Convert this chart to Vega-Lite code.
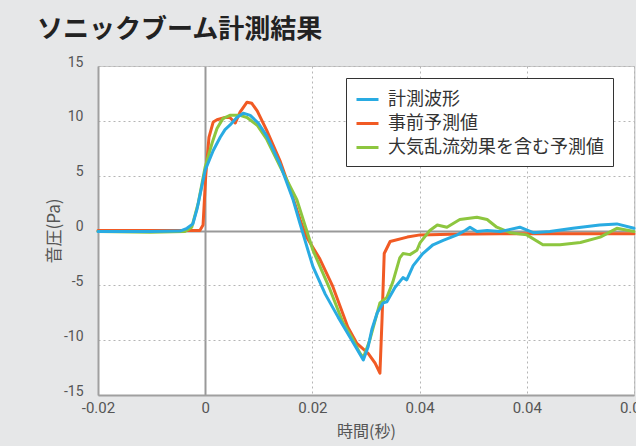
{
  "$schema": "https://vega.github.io/schema/vega-lite/v6.json",
  "width": 536,
  "height": 329,
  "autosize": {"type": "none"},
  "padding": {"left": 98, "top": 66, "right": 2, "bottom": 51},
  "background": "#e6e7e8",
  "title": {
    "text": "ソニックブーム計測結果",
    "anchor": "start",
    "frame": "group",
    "dx": -61,
    "offset": 12,
    "font": "Noto Sans CJK JP",
    "fontSize": 26,
    "fontWeight": "bold",
    "color": "#222222"
  },
  "config": {
    "view": {"fill": "white", "stroke": "#c8c8c8", "strokeWidth": 1},
    "axis": {
      "labelFont": "Roboto",
      "labelColor": "#555555",
      "titleFont": "Noto Sans CJK JP",
      "titleColor": "#555555",
      "titleFontWeight": "normal",
      "ticks": false,
      "labelFlush": false,
      "domainColor": "#a0a0a0",
      "domainWidth": 2
    }
  },
  "data": {
    "values": [
      {"series": "計測波形", "t": -0.02, "p": -0.1},
      {"series": "計測波形", "t": -0.0103, "p": -0.1},
      {"series": "計測波形", "t": -0.0047, "p": -0.05},
      {"series": "計測波形", "t": -0.0034, "p": 0.2},
      {"series": "計測波形", "t": -0.0023, "p": 0.6},
      {"series": "計測波形", "t": -0.0015, "p": 2.0},
      {"series": "計測波形", "t": 0.0, "p": 5.5},
      {"series": "計測波形", "t": 0.0015, "p": 7.3},
      {"series": "計測波形", "t": 0.0028, "p": 8.5},
      {"series": "計測波形", "t": 0.0037, "p": 9.2},
      {"series": "計測波形", "t": 0.0046, "p": 9.6},
      {"series": "計測波形", "t": 0.0059, "p": 10.3},
      {"series": "計測波形", "t": 0.0071, "p": 10.7},
      {"series": "計測波形", "t": 0.0084, "p": 10.5},
      {"series": "計測波形", "t": 0.0099, "p": 9.8},
      {"series": "計測波形", "t": 0.0115, "p": 8.6},
      {"series": "計測波形", "t": 0.014, "p": 6.0},
      {"series": "計測波形", "t": 0.0164, "p": 2.8},
      {"series": "計測波形", "t": 0.0177, "p": 0.6},
      {"series": "計測波形", "t": 0.0201, "p": -3.3},
      {"series": "計測波形", "t": 0.0224, "p": -5.8},
      {"series": "計測波形", "t": 0.0248, "p": -7.9},
      {"series": "計測波形", "t": 0.0271, "p": -9.8},
      {"series": "計測波形", "t": 0.0283, "p": -10.8},
      {"series": "計測波形", "t": 0.0295, "p": -11.8},
      {"series": "計測波形", "t": 0.0304, "p": -10.6},
      {"series": "計測波形", "t": 0.0311, "p": -9.0},
      {"series": "計測波形", "t": 0.0321, "p": -7.5},
      {"series": "計測波形", "t": 0.0332, "p": -6.6},
      {"series": "計測波形", "t": 0.0339, "p": -6.5},
      {"series": "計測波形", "t": 0.0354, "p": -5.2},
      {"series": "計測波形", "t": 0.0369, "p": -4.3},
      {"series": "計測波形", "t": 0.0376, "p": -4.5},
      {"series": "計測波形", "t": 0.0388, "p": -3.2},
      {"series": "計測波形", "t": 0.0406, "p": -2.1},
      {"series": "計測波形", "t": 0.0425, "p": -1.3},
      {"series": "計測波形", "t": 0.0444, "p": -0.9},
      {"series": "計測波形", "t": 0.047, "p": -0.4},
      {"series": "計測波形", "t": 0.0485, "p": 0.0},
      {"series": "計測波形", "t": 0.0494, "p": 0.3},
      {"series": "計測波形", "t": 0.0507, "p": -0.1},
      {"series": "計測波形", "t": 0.0526, "p": 0.0},
      {"series": "計測波形", "t": 0.055, "p": -0.1},
      {"series": "計測波形", "t": 0.0569, "p": 0.1},
      {"series": "計測波形", "t": 0.0587, "p": 0.3},
      {"series": "計測波形", "t": 0.0612, "p": -0.2},
      {"series": "計測波形", "t": 0.0643, "p": -0.1},
      {"series": "計測波形", "t": 0.0686, "p": 0.2},
      {"series": "計測波形", "t": 0.0736, "p": 0.5},
      {"series": "計測波形", "t": 0.0768, "p": 0.6},
      {"series": "計測波形", "t": 0.08, "p": 0.2},

      {"series": "事前予測値", "t": -0.02, "p": 0.0},
      {"series": "事前予測値", "t": -0.001, "p": 0.0},
      {"series": "事前予測値", "t": -0.0004, "p": 0.5},
      {"series": "事前予測値", "t": 0.0001, "p": 5.0},
      {"series": "事前予測値", "t": 0.0007, "p": 8.5},
      {"series": "事前予測値", "t": 0.0015, "p": 9.9},
      {"series": "事前予測値", "t": 0.0022, "p": 10.1},
      {"series": "事前予測値", "t": 0.0037, "p": 10.3},
      {"series": "事前予測値", "t": 0.0046, "p": 10.3},
      {"series": "事前予測値", "t": 0.0056, "p": 9.8},
      {"series": "事前予測値", "t": 0.0065, "p": 10.8},
      {"series": "事前予測値", "t": 0.0078, "p": 11.7},
      {"series": "事前予測値", "t": 0.0087, "p": 11.6},
      {"series": "事前予測値", "t": 0.0097, "p": 10.9},
      {"series": "事前予測値", "t": 0.0115, "p": 9.1},
      {"series": "事前予測値", "t": 0.014, "p": 6.3},
      {"series": "事前予測値", "t": 0.0158, "p": 3.8},
      {"series": "事前予測値", "t": 0.0177, "p": 1.0},
      {"series": "事前予測値", "t": 0.0188, "p": -0.5},
      {"series": "事前予測値", "t": 0.0214, "p": -2.6},
      {"series": "事前予測値", "t": 0.0238, "p": -5.1},
      {"series": "事前予測値", "t": 0.0266, "p": -8.8},
      {"series": "事前予測値", "t": 0.0283, "p": -10.3},
      {"series": "事前予測値", "t": 0.0304, "p": -11.2},
      {"series": "事前予測値", "t": 0.0317, "p": -12.1},
      {"series": "事前予測値", "t": 0.0326, "p": -13.0},
      {"series": "事前予測値", "t": 0.033, "p": -8.0},
      {"series": "事前予測値", "t": 0.0334, "p": -2.1},
      {"series": "事前予測値", "t": 0.0345, "p": -1.0},
      {"series": "事前予測値", "t": 0.0377, "p": -0.6},
      {"series": "事前予測値", "t": 0.0401, "p": -0.4},
      {"series": "事前予測値", "t": 0.0457, "p": -0.35},
      {"series": "事前予測値", "t": 0.055, "p": -0.3},
      {"series": "事前予測値", "t": 0.0662, "p": -0.3},
      {"series": "事前予測値", "t": 0.08, "p": -0.3},

      {"series": "大気乱流効果を含む予測値", "t": -0.02, "p": -0.1},
      {"series": "大気乱流効果を含む予測値", "t": -0.0103, "p": -0.15},
      {"series": "大気乱流効果を含む予測値", "t": -0.0038, "p": -0.1},
      {"series": "大気乱流効果を含む予測値", "t": -0.0025, "p": 0.3},
      {"series": "大気乱流効果を含む予測値", "t": -0.0013, "p": 2.5},
      {"series": "大気乱流効果を含む予測値", "t": 0.0, "p": 5.8},
      {"series": "大気乱流効果を含む予測値", "t": 0.0013, "p": 8.0},
      {"series": "大気乱流効果を含む予測値", "t": 0.0022, "p": 9.3},
      {"series": "大気乱流効果を含む予測値", "t": 0.0033, "p": 10.2},
      {"series": "大気乱流効果を含む予測値", "t": 0.0046, "p": 10.5},
      {"series": "大気乱流効果を含む予測値", "t": 0.0065, "p": 10.5},
      {"series": "大気乱流効果を含む予測値", "t": 0.0078, "p": 10.3},
      {"series": "大気乱流効果を含む予測値", "t": 0.0097, "p": 9.6},
      {"series": "大気乱流効果を含む予測値", "t": 0.0115, "p": 8.3},
      {"series": "大気乱流効果を含む予測値", "t": 0.014, "p": 5.8},
      {"series": "大気乱流効果を含む予測値", "t": 0.0171, "p": 2.8},
      {"series": "大気乱流効果を含む予測値", "t": 0.0186, "p": 0.5},
      {"series": "大気乱流効果を含む予測値", "t": 0.0201, "p": -1.8},
      {"series": "大気乱流効果を含む予測値", "t": 0.0233, "p": -5.4},
      {"series": "大気乱流効果を含む予測値", "t": 0.0257, "p": -8.4},
      {"series": "大気乱流効果を含む予測値", "t": 0.0274, "p": -9.8},
      {"series": "大気乱流効果を含む予測値", "t": 0.0289, "p": -11.2},
      {"series": "大気乱流効果を含む予測値", "t": 0.0295, "p": -11.6},
      {"series": "大気乱流効果を含む予測値", "t": 0.0307, "p": -10.0},
      {"series": "大気乱流効果を含む予測値", "t": 0.0326, "p": -6.6},
      {"series": "大気乱流効果を含む予測値", "t": 0.0339, "p": -6.1},
      {"series": "大気乱流効果を含む予測値", "t": 0.035, "p": -4.7},
      {"series": "大気乱流効果を含む予測値", "t": 0.0363, "p": -2.5},
      {"series": "大気乱流効果を含む予測値", "t": 0.0369, "p": -2.1},
      {"series": "大気乱流効果を含む予測値", "t": 0.0382, "p": -2.2},
      {"series": "大気乱流効果を含む予測値", "t": 0.0395, "p": -1.8},
      {"series": "大気乱流効果を含む予測値", "t": 0.0401, "p": -1.1},
      {"series": "大気乱流効果を含む予測値", "t": 0.0419, "p": 0.0},
      {"series": "大気乱流効果を含む予測値", "t": 0.0433, "p": 0.5},
      {"series": "大気乱流効果を含む予測値", "t": 0.0451, "p": 0.3},
      {"series": "大気乱流効果を含む予測値", "t": 0.0475, "p": 1.0},
      {"series": "大気乱流効果を含む予測値", "t": 0.0507, "p": 1.2},
      {"series": "大気乱流効果を含む予測値", "t": 0.0526, "p": 1.0},
      {"series": "大気乱流効果を含む予測値", "t": 0.0544, "p": 0.3},
      {"series": "大気乱流効果を含む予測値", "t": 0.0569, "p": -0.2},
      {"series": "大気乱流効果を含む予測値", "t": 0.06, "p": -0.4},
      {"series": "大気乱流効果を含む予測値", "t": 0.063, "p": -1.3},
      {"series": "大気乱流効果を含む予測値", "t": 0.0662, "p": -1.3},
      {"series": "大気乱流効果を含む予測値", "t": 0.07, "p": -1.1},
      {"series": "大気乱流効果を含む予測値", "t": 0.0737, "p": -0.6},
      {"series": "大気乱流効果を含む予測値", "t": 0.0768, "p": 0.2},
      {"series": "大気乱流効果を含む予測値", "t": 0.08, "p": -0.1}
    ]
  },
  "encoding": {
    "x": {
      "field": "t",
      "type": "quantitative",
      "scale": {"domain": [-0.02, 0.08], "nice": false, "zero": false},
      "axis": {
        "values": [-0.02, 0, 0.02, 0.04, 0.06, 0.08],
        "title": "時間(秒)",
        "titleFontSize": 16,
        "titlePadding": 8,
        "labelFontSize": 15,
        "labelPadding": 5,
        "labelExpr": "datum.value < -0.01 ? '-0.02' : datum.value < 0.01 ? '0' : datum.value < 0.03 ? '0.02' : datum.value < 0.07 ? '0.04' : '0.08'",
        "gridColor": {"condition": {"test": "abs(datum.value) < 0.0001", "value": "#999999"}, "value": "#b5b5b5"},
        "gridDash": {"condition": {"test": "abs(datum.value) < 0.0001", "value": []}, "value": [2, 3]},
        "gridWidth": {"condition": {"test": "abs(datum.value) < 0.0001", "value": 2}, "value": 1}
      }
    },
    "y": {
      "field": "p",
      "type": "quantitative",
      "scale": {"domain": [-15, 15], "nice": false},
      "axis": {
        "values": [-15, -10, -5, 0, 5, 10, 15],
        "title": "音圧(Pa)",
        "titleFontSize": 17,
        "titlePadding": 0,
        "labelFontSize": 14,
        "labelPadding": 15,
        "labelBaseline": "alphabetic",
        "labelExpr": "datum.value < 0 ? '-' + abs(datum.value) : '' + datum.value",
        "gridColor": {"condition": {"test": "datum.value === 0", "value": "#999999"}, "value": "#b5b5b5"},
        "gridDash": {"condition": {"test": "datum.value === 0", "value": []}, "value": [2, 3]},
        "gridWidth": {"condition": {"test": "datum.value === 0", "value": 2}, "value": 1}
      }
    },
    "color": {
      "field": "series",
      "type": "nominal",
      "scale": {
        "domain": ["計測波形", "事前予測値", "大気乱流効果を含む予測値"],
        "range": ["#29abe2", "#f15a24", "#8dc63f"]
      },
      "legend": {
        "title": null,
        "orient": "none",
        "legendX": 248,
        "legendY": 12,
        "symbolType": "stroke",
        "symbolSize": 484,
        "symbolStrokeWidth": 3,
        "labelFont": "Noto Sans CJK JP",
        "labelFontSize": 18,
        "labelColor": "#333333",
        "labelOffset": 8,
        "rowPadding": 2,
        "padding": 9,
        "strokeColor": "#333333",
        "fillColor": "white",
        "labelLimit": 400
      }
    }
  },
  "layer": [
    {
      "transform": [{"filter": "datum.series === '事前予測値'"}],
      "mark": {"type": "line", "strokeWidth": 3, "strokeCap": "round", "strokeJoin": "round"}
    },
    {
      "transform": [{"filter": "datum.series === '大気乱流効果を含む予測値'"}],
      "mark": {"type": "line", "strokeWidth": 3, "strokeCap": "round", "strokeJoin": "round"}
    },
    {
      "transform": [{"filter": "datum.series === '計測波形'"}],
      "mark": {"type": "line", "strokeWidth": 3, "strokeCap": "round", "strokeJoin": "round"}
    }
  ]
}
